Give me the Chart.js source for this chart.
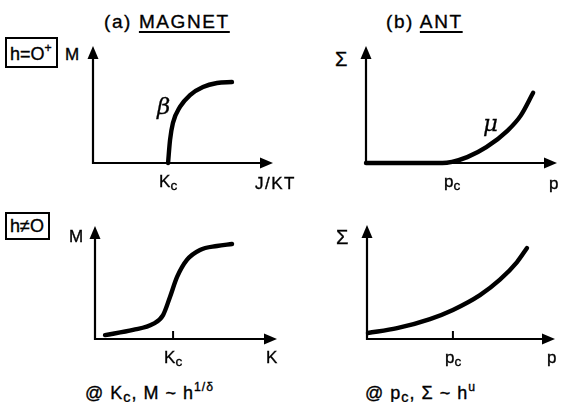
<!DOCTYPE html>
<html>
<head>
<meta charset="utf-8">
<script src="https://cdn.jsdelivr.net/npm/chart.js@4/dist/chart.umd.min.js"></script>
<style>
  html, body { margin: 0; padding: 0; background: #fff; }
  body { width: 561px; height: 402px; position: relative; overflow: hidden;
         font-family: "Liberation Sans", "DejaVu Sans", sans-serif; color: #000; }
  canvas { position: absolute; }
  .t { position: absolute; white-space: nowrap; line-height: 1; -webkit-text-stroke: 0.35px #000; }
  .title { font-size: 19px; letter-spacing: 1.6px; }
  .title u { text-decoration-thickness: 1.6px; text-underline-offset: 3px; }
  .ax { font-size: 17px; }
  .box { border: 2px solid #000; font-size: 18px; padding: 3px 4px 3px 3px; }
  .greek { font-size: 23px; font-style: italic; font-family: "DejaVu Serif", serif; -webkit-text-stroke: 0.3px #000; }
  .cap { font-size: 18px; letter-spacing: 1px; }
  sub { font-size: 80%; vertical-align: -3px; }
  sup { font-size: 68%; vertical-align: 8px; }
</style>
</head>
<body>
<canvas id="magnetZero" width="204" height="141" style="left:81px;top:34px"></canvas>
<canvas id="antZero" width="215" height="141" style="left:354px;top:34px"></canvas>
<canvas id="magnetField" width="206" height="137" style="left:83px;top:214px"></canvas>
<canvas id="antField" width="212" height="138" style="left:355px;top:213px"></canvas>

<div class="t title" style="left:104px;top:12px">(a) <u>MAGNET</u></div>
<div class="t title" style="left:386px;top:12px">(b) <u>ANT</u></div>

<div class="t box" style="left:5px;top:37px">h=O<sup>+</sup></div>
<div class="t box" style="left:5px;top:212px">h≠O</div>

<div class="t ax" style="left:65px;top:46px">M</div>
<div class="t ax" style="left:69px;top:228px">M</div>
<div class="t ax" style="left:335px;top:49px;font-size:20px">Σ</div>
<div class="t ax" style="left:336px;top:227px;font-size:20px">Σ</div>

<div class="t ax" id="lblKc0">K<sub>c</sub></div>
<div class="t ax" style="left:255px;top:175px;letter-spacing:1.5px">J/KT</div>
<div class="t ax" id="lblPc0">p<sub>c</sub></div>
<div class="t ax" style="left:549px;top:175px">p</div>
<div class="t ax" id="lblKc1">K<sub>c</sub></div>
<div class="t ax" style="left:266px;top:349px">K</div>
<div class="t ax" id="lblPc1">p<sub>c</sub></div>
<div class="t ax" style="left:547px;top:349px">p</div>

<div class="t greek" style="left:157px;top:95px">β</div>
<div class="t greek" style="left:483px;top:112px">μ</div>

<div class="t cap" style="left:85px;top:381px">@ K<sub>c</sub>, M ~ h<sup>1/δ</sup></div>
<div class="t cap" style="left:365px;top:381px">@ p<sub>c</sub>, Σ ~ h<sup>u</sup></div>

<script>
// (a) magnet, h = 0+ : magnetisation vs coupling J/KT
const magnetZeroK = [4.17, 4.28, 4.44, 4.83, 5.39, 6.11, 6.89, 7.72];
const magnetZeroM = [0.00, 1.97, 3.42, 4.79, 5.81, 6.50, 6.84, 6.92];
const magnetKc = 4.17;

// (b) ant, h = 0 : Sigma vs p
const antZeroP = [0.0, 1.0, 2.0, 3.0, 4.0, 4.5, 5.3, 6.3, 7.4, 8.1, 8.75];
const antZeroS = [0.0, 0.0, 0.0, 0.0, 0.0, 0.1, 0.5, 1.35, 2.75, 4.05, 6.0];
const antPc = 4.5;

// (a) magnet, h != 0 : smooth crossover through Kc
const magnetFieldK = [0.55, 2.09, 3.19, 3.74, 4.12, 4.51, 5.05, 5.77, 6.70, 7.53];
const magnetFieldM = [0.35, 0.80, 1.33, 2.12, 3.72, 5.49, 7.00, 7.88, 8.23, 8.41];
const magnetFieldKc = 4.29;

// (b) ant, h != 0 : smooth growth through pc
const antFieldP = [0.05, 1.60, 3.35, 4.57, 6.01, 7.07, 7.98, 8.51];
const antFieldS = [0.53, 0.95, 1.75, 2.55, 3.85, 5.20, 6.75, 7.98];
const antFieldPc = 4.57;

// Axes with arrowheads, plus an optional tick mark on the x axis
const arrowAxes = {
  id: 'arrowAxes',
  beforeDatasetsDraw(chart, args, opts) {
    const { ctx, chartArea: a } = chart;
    const L = 13, W = 5.5;
    ctx.save();
    ctx.strokeStyle = '#000';
    ctx.fillStyle = '#000';
    ctx.lineWidth = 2.2;
    ctx.lineCap = 'butt';
    ctx.beginPath();
    ctx.moveTo(a.left, a.top + L - 1);
    ctx.lineTo(a.left, a.bottom);
    ctx.lineTo(a.right - L + 1, a.bottom);
    ctx.stroke();
    ctx.beginPath();
    ctx.moveTo(a.left, a.top);
    ctx.lineTo(a.left - W, a.top + L);
    ctx.lineTo(a.left + W, a.top + L);
    ctx.closePath();
    ctx.fill();
    ctx.beginPath();
    ctx.moveTo(a.right, a.bottom);
    ctx.lineTo(a.right - L, a.bottom - W);
    ctx.lineTo(a.right - L, a.bottom + W);
    ctx.closePath();
    ctx.fill();
    if (opts.tick != null) {
      const x = chart.scales.x.getPixelForValue(opts.tick);
      ctx.lineWidth = 2;
      ctx.beginPath();
      ctx.moveTo(x, a.bottom);
      ctx.lineTo(x, a.bottom - 8);
      ctx.stroke();
    }
    ctx.restore();
  },
  afterDraw(chart, args, opts) {
    if (!opts.label) return;
    const el = document.getElementById(opts.label);
    const cv = chart.canvas;
    const x = cv.offsetLeft + chart.scales.x.getPixelForValue(opts.at);
    const y = cv.offsetTop + chart.chartArea.bottom + 10;
    el.style.left = (x - el.offsetWidth / 2) + 'px';
    el.style.top = y + 'px';
  }
};

function panel(id, xs, ys, pluginOpts) {
  return new Chart(document.getElementById(id), {
    type: 'line',
    data: {
      datasets: [{
        data: xs.map((x, i) => ({ x, y: ys[i] })),
        borderColor: '#000',
        borderWidth: 4.4,
        borderCapStyle: 'round',
        pointRadius: 0,
        cubicInterpolationMode: 'monotone',
        fill: false
      }]
    },
    options: {
      responsive: false,
      animation: false,
      events: [],
      layout: { padding: 12 },
      scales: {
        x: { type: 'linear', min: 0, max: 10, display: false },
        y: { type: 'linear', min: 0, max: 10, display: false }
      },
      plugins: {
        legend: { display: false },
        tooltip: { enabled: false },
        arrowAxes: pluginOpts
      },
      clip: false
    },
    plugins: [arrowAxes]
  });
}

panel('magnetZero', magnetZeroK, magnetZeroM, { label: 'lblKc0', at: magnetKc });
panel('antZero', antZeroP, antZeroS, { label: 'lblPc0', at: antPc });
panel('magnetField', magnetFieldK, magnetFieldM, { tick: magnetFieldKc, label: 'lblKc1', at: magnetFieldKc });
panel('antField', antFieldP, antFieldS, { tick: antFieldPc, label: 'lblPc1', at: antFieldPc });
</script>
</body>
</html>
